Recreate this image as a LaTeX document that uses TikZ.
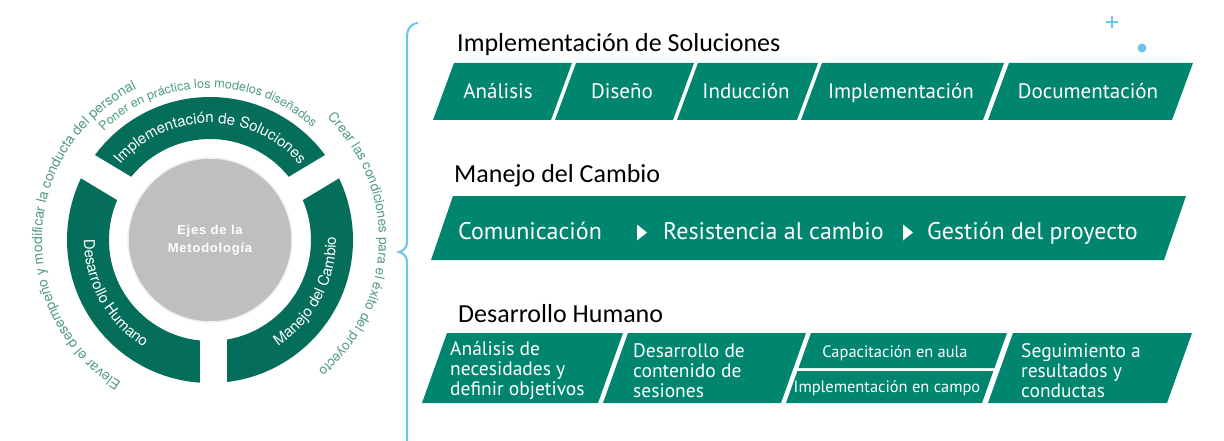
\documentclass[tikz,border=0pt]{standalone}
\usepackage{fontspec}
\usetikzlibrary{decorations.text}
\newfontfamily\ringfont{TeX Gyre Heros}
\newfontfamily\boxfont{PT Sans}
\newfontfamily\titlefont{Carlito}
\newfontfamily\hubfont{Liberation Sans}[LetterSpace=6]
\definecolor{ringg}{HTML}{056E5A}
\definecolor{boxg}{HTML}{00866F}
\definecolor{ringtext}{HTML}{4F9987}
\definecolor{hubg}{HTML}{BFBFBF}
\definecolor{accent}{HTML}{6BC4EC}
\newcommand\pgram[5]{\fill[boxg] (#1,#3) -- (#2,#3) -- ({#2-#5},#4) -- ({#1-#5},#4) -- cycle;}
\begin{document}
\begin{tikzpicture}[x=1pt,y=1pt,
  boxtxt/.style={text=white, font=\boxfont\fontsize{21}{20}\selectfont, inner sep=0pt},
  bigtxt/.style={text=white, font=\boxfont\fontsize{24}{24}\selectfont, inner sep=0pt},
  multitxt/.style={text=white, font=\boxfont\fontsize{19.5}{20}\selectfont, inner sep=0pt, align=left},
  smalltxt/.style={text=white, font=\boxfont\fontsize{16.4}{17}\selectfont, inner sep=0pt},
  titletxt/.style={text=black, font=\titlefont\fontsize{26}{26}\selectfont, inner sep=0pt},
  hubtxt/.style={text=white, font=\hubfont\bfseries\fontsize{13}{18}\selectfont, align=center, inner sep=0pt},
  gapline/.style={white, line width=27pt},
  ringlabel/.style={decorate, decoration={text along path, text align=center, text color=white,
     text={|\ringfont\fontsize{15}{15}\selectfont|#1}}},
  outerlabel/.style n args={2}{decorate, decoration={text along path, text align=center, text color=ringtext,
     text={|\ringfont\fontsize{#1}{#1}\selectfont|#2}}}
]
\useasboundingbox (0,0) rectangle (1224,440);
% ---- circle diagram ----
\coordinate (c) at (210,200);
\fill[ringg, even odd rule] (c) circle[radius=143] (c) circle[radius=101];
\draw[gapline] (c) -- ++(149:160);
\draw[gapline] (c) -- ++(31:160);
\draw[gapline] (213.5,200) -- (213.5,40);
\fill[hubg] (c) circle[radius=82];
\draw[gray!12, line width=1.5pt] (c) circle[radius=82];
\node[hubtxt] (hub) at (210,200) {Ejes de la\\Metodología};
\path[ringlabel={Implementación de Soluciones}] ([shift={(170:117)}]c) arc[start angle=170, end angle=10, radius=117];
\path[ringlabel={Desarrollo Humano}] ([shift={(150:126)}]c) arc[start angle=150, end angle=268, radius=126];
\path[ringlabel={Manejo del Cambio}] ([shift={(272:126)}]c) arc[start angle=272, end angle=392, radius=126];
\path[outerlabel={12.6}{Poner en práctica los modelos diseñados}] ([shift={(181:152)}]c) arc[start angle=181, end angle=1, radius=152];
\path[outerlabel={13.5}{Crear las condiciones para el éxito del proyecto}] ([shift={(88:169)}]c) arc[start angle=88, end angle=-92, radius=169];
\path[outerlabel={14}{Elevar el desempeño y modificar la conducta del personal}] ([shift={(267:168)}]c) arc[start angle=267, end angle=87, radius=168];
% ---- bracket and accents ----
\draw[accent, line width=2pt] (418,417) .. controls (410,416) and (407,411) .. (407,402) -- (407,198)
  .. controls (407,192) and (403,189) .. (399,188) .. controls (403,187) and (407,184) .. (407,178) -- (407,-2);
\draw[accent, line width=1.5pt] (1106,418) -- (1118,418) (1112,412) -- (1112,424);
\fill[accent] (1142,392) circle[radius=4.5];
% ---- row 1 ----
\node[titletxt, anchor=base west] (t1) at (457,388) {Implementación de Soluciones};
\pgram{454}{572}{377}{320}{21}
\pgram{576}{694}{377}{320}{21}
\pgram{698}{818}{377}{320}{21}
\pgram{822}{1004}{377}{320}{21}
\pgram{1009}{1193}{377}{320}{21}
\node[boxtxt, anchor=base] (a1) at (498,341) {Análisis};
\node[boxtxt, anchor=base] (a2) at (622,341) {Diseño};
\node[boxtxt, anchor=base] (a3) at (746,341) {Inducción};
\node[boxtxt, anchor=base] (a4) at (901,341) {Implementación};
\node[boxtxt, anchor=base] (a5) at (1088,341) {Documentación};
% ---- row 2 ----
\node[titletxt, anchor=base west] (t2) at (454,258) {Manejo del Cambio};
\pgram{453}{1186}{244}{180}{22}
\node[bigtxt, anchor=base west] (b1) at (458,201) {Comunicación};
\fill[white] (637,215.5) -- (647,207.5) -- (637,199.5) -- cycle;
\node[bigtxt, anchor=base west] (b2) at (663,201) {Resistencia al cambio};
\fill[white] (903,215.5) -- (913,207.5) -- (903,199.5) -- cycle;
\node[bigtxt, anchor=base west] (b3) at (927,201) {Gestión del proyecto};
% ---- row 3 ----
\node[titletxt, anchor=base west] (t3) at (458,118) {Desarrollo Humano};
\pgram{447}{623}{107}{37}{25}
\pgram{628}{806}{107}{37}{25}
\fill[boxg] (811,107) -- (1007,107) -- (994.5,72) -- (798.5,72) -- cycle;
\fill[boxg] (797.4,69) -- (993.4,69) -- (982,37) -- (786,37) -- cycle;
\pgram{1013}{1192}{107}{37}{25}
\node[multitxt, anchor=west] (c1) at (450,69) {Análisis de\\necesidades y\\definir objetivos};
\node[multitxt, anchor=west] (c2) at (633,69) {Desarrollo de\\contenido de\\sesiones};
\node[smalltxt, anchor=base] (c3) at (895,83) {Capacitación en aula};
\node[smalltxt, anchor=base] (c4) at (887,48) {Implementación en campo};
\node[multitxt, anchor=west] (c5) at (1021,69) {Seguimiento a\\resultados y\\conductas};
\end{tikzpicture}
\end{document}
